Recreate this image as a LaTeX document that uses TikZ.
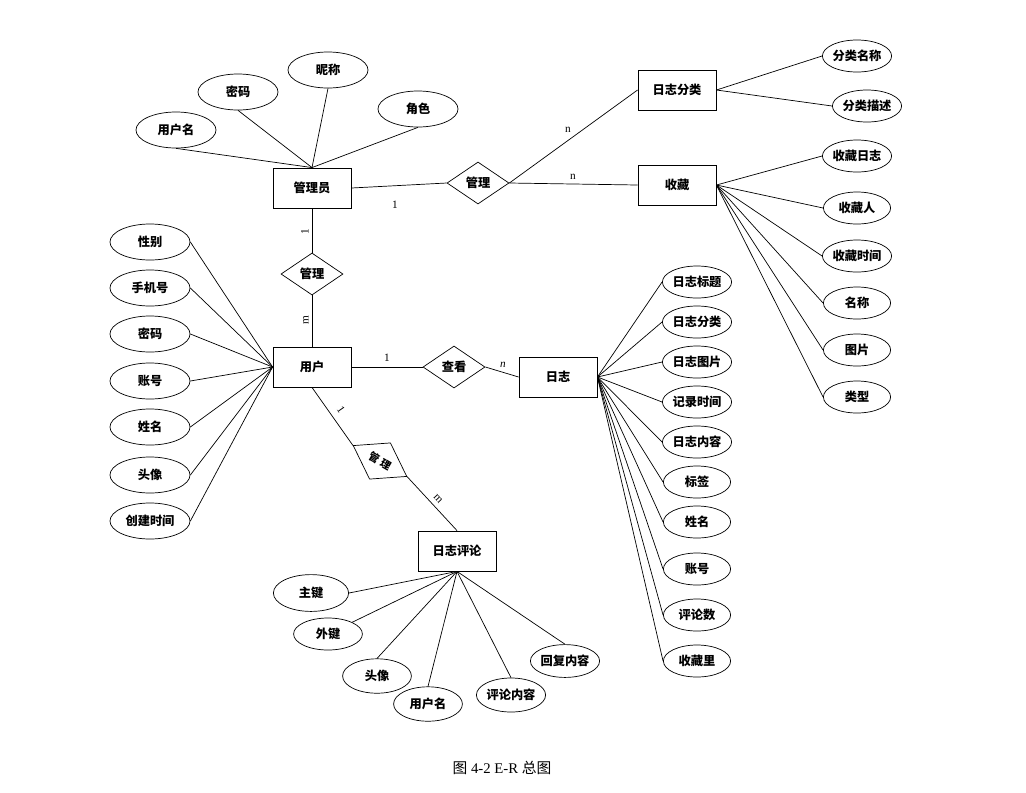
\documentclass[tikz,border=0pt]{standalone}
\usepackage{fontspec}
\setmainfont{Liberation Serif}
\newfontfamily\cjk{Noto Sans CJK SC}
\usetikzlibrary{shapes.geometric}

\begin{document}
\begin{tikzpicture}[x=0.025cm, y=-0.025cm, line width=0.5pt, er/.style={font=\cjk\bfseries\fontsize{8.7}{10}\selectfont}, entity/.style={er, draw, line width=0.6pt, minimum width=1.95cm, minimum height=1cm}, rel/.style={er, draw, diamond, inner sep=0pt, minimum width=1.55cm, minimum height=1.05cm}, attr/.style={er, draw, ellipse, inner sep=0pt, minimum width=2cm, minimum height=0.9cm}, attrs/.style={attr, minimum width=1.68cm, minimum height=0.8cm}, card/.style={font=\fontsize{8}{9}\selectfont, inner sep=0pt}, caption/.style={font=\fontsize{10.5}{12}\selectfont}]
\useasboundingbox (0,0) rectangle (1026,792);

% entities
\node[entity] (gly) at (312,188) {管理员}; \node[entity] (user) at (312,367) {用户}; \node[entity] (log) at (558,377) {日志};
\node[entity] (cls) at (677,90) {日志分类}; \node[entity] (fav) at (677,185) {收藏}; \node[entity] (cmt) at (457,551) {日志评论};

% relations
\node[rel] (r1) at (478,183) {管理}; \node[rel] (r2) at (312,274) {管理}; \node[rel] (r3) at (454,367) {查看};
\node[rel, rotate=-30, font=\cjk\bfseries\fontsize{7.5}{9}\selectfont] (r4) at (380,461) {管\kern2pt理};
\draw (gly.east)--(r1.west); \draw (r1.east)--(cls.west); \draw (r1.east)--(fav.west);
\draw (gly.south)--(r2.north); \draw (r2.south)--(user.north); \draw (user.east)--(r3.west); \draw (r3.east)--(log.west);
\draw (user.south)--(r4.west); \draw (r4.east)--(cmt.north);
\node[card] at (395,205) {1}; \node[card] at (568,130) {n}; \node[card] at (573,177) {n};
\node[card, rotate=90] at (305,232) {1}; \node[card, rotate=90] at (306,320) {m};
\node[card] at (387,358) {1}; \node[card] at (503,365) {\itshape n};
\node[card, rotate=-55] at (341,410) {1}; \node[card, rotate=-47] at (438,499) {m};

% attributes of 管理员
\node[attr] (g1) at (176,130) {用户名}; \node[attr] (g2) at (238,92) {密码}; \node[attr] (g3) at (328,70) {昵称}; \node[attr] (g4) at (418,109) {角色};
\foreach \a in {g1,g2,g3,g4} \draw (\a.south)--(gly.north);

% attributes of 用户
\node[attr] (u1) at (150,242) {性别}; \node[attr] (u2) at (150,288) {手机号}; \node[attr] (u3) at (150,334) {密码}; \node[attr] (u4) at (150,381) {账号};
\node[attr] (u5) at (150,427) {姓名}; \node[attr] (u6) at (150,475) {头像}; \node[attr] (u7) at (150,521) {创建时间};
\foreach \a in {u1,u2,u3,u4,u5,u6,u7} \draw (\a.east)--(user.west);

% attributes of 日志
\node[attrs] (l1) at (697,282) {日志标题}; \node[attrs] (l2) at (697,322) {日志分类}; \node[attrs] (l3) at (697,362) {日志图片};
\node[attrs] (l4) at (697,402) {记录时间}; \node[attrs] (l5) at (697,442) {日志内容}; \node[attrs] (l6) at (697,482) {标签};
\node[attrs] (l7) at (697,522) {姓名}; \node[attrs] (l8) at (697,569) {账号}; \node[attrs] (l9) at (697,615) {评论数}; \node[attrs] (l10) at (697,661) {收藏里};
\foreach \a in {l1,l2,l3,l4,l5,l6,l7,l8,l9,l10} \draw (log.east)--(\a.west);

% attributes of 日志分类 and 收藏
\node[attrs] (c1) at (857,56) {分类名称}; \node[attrs] (c2) at (867,106) {分类描述};
\foreach \a in {c1,c2} \draw (cls.east)--(\a.west);
\node[attrs] (f1) at (857,156) {收藏日志}; \node[attrs] (f2) at (857,208) {收藏人}; \node[attrs] (f3) at (857,256) {收藏时间};
\node[attrs] (f4) at (857,303) {名称}; \node[attrs] (f5) at (857,350) {图片}; \node[attrs] (f6) at (857,397) {类型};
\foreach \a in {f1,f2,f3,f4,f5,f6} \draw (fav.east)--(\a.west);

% attributes of 日志评论
\node[attr, minimum width=1.88cm, minimum height=0.92cm] (k1) at (311,593) {主键}; \node[attrs, minimum width=1.72cm] (k2) at (328,634) {外键};
\node[attrs, minimum width=1.72cm, minimum height=0.86cm] (k3) at (377,676) {头像}; \node[attrs, minimum width=1.72cm, minimum height=0.86cm] (k4) at (428,704) {用户名};
\node[attrs, minimum width=1.7cm, minimum height=0.85cm] (k5) at (511,695) {评论内容}; \node[attrs, minimum height=0.82cm] (k6) at (565,661) {回复内容};
\draw (cmt.south)--(k1.east); \draw (cmt.south)--(k2);
\foreach \a in {k3,k4,k5,k6} \draw (cmt.south)--(\a.north);

\node[caption] (cap) at (502,768) {{\cjk 图} 4-2 E-R {\cjk 总图}};
\end{tikzpicture}
\end{document}
